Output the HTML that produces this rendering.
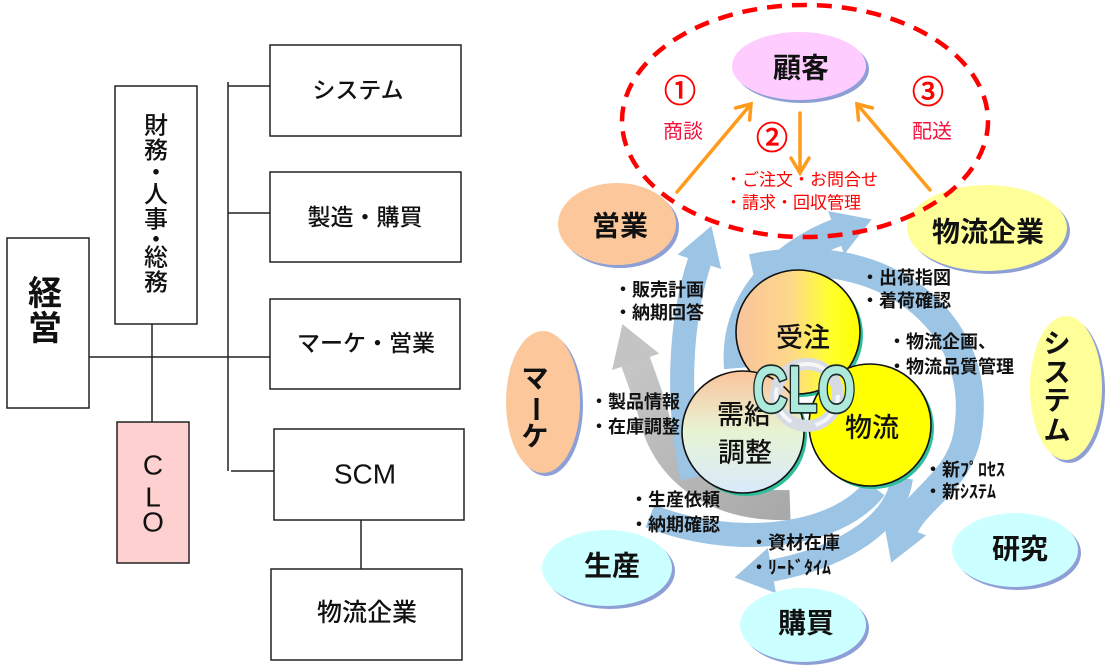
<!DOCTYPE html>
<html>
<head>
<meta charset="utf-8">
<style>
html,body{margin:0;padding:0;background:#fff;}
svg{display:block;}
text{font-family:"Liberation Sans","Noto Sans CJK JP",sans-serif;}
</style>
</head>
<body>
<svg width="1108" height="672" viewBox="0 0 1108 672" xmlns="http://www.w3.org/2000/svg">
<defs>
  <marker id="hb" markerUnits="userSpaceOnUse" markerWidth="38" markerHeight="46" refX="2" refY="23" orient="auto" viewBox="0 0 38 46">
    <path d="M0,0 L38,23 L0,46 z" fill="#9cc4e5"/>
  </marker>
  <marker id="hg" markerUnits="userSpaceOnUse" markerWidth="40" markerHeight="50" refX="2" refY="25" orient="auto" viewBox="0 0 40 50">
    <path d="M0,0 L40,25 L0,50 z" fill="#c4c4c4"/>
  </marker>
  <linearGradient id="gJ" x1="0" y1="0" x2="1" y2="0">
    <stop offset="0" stop-color="#f9c39c"/>
    <stop offset="0.45" stop-color="#fdd88a"/>
    <stop offset="0.75" stop-color="#ffff30"/>
    <stop offset="1" stop-color="#ffff00"/>
  </linearGradient>
  <linearGradient id="gD" x1="0" y1="0" x2="0" y2="1">
    <stop offset="0" stop-color="#fbc49b"/>
    <stop offset="0.5" stop-color="#e6f4d4"/>
    <stop offset="1" stop-color="#d9e9fb"/>
  </linearGradient>
  <linearGradient id="gG" gradientUnits="userSpaceOnUse" x1="790" y1="505" x2="635" y2="360">
    <stop offset="0" stop-color="#a9a9a9"/>
    <stop offset="1" stop-color="#c6c6c6"/>
  </linearGradient>
</defs>

<!-- ===== LEFT ORG CHART ===== -->
<g fill="none" stroke="#222" stroke-width="1.5">
  <line x1="89" y1="357" x2="270" y2="357"/>
  <line x1="152" y1="324" x2="152" y2="422"/>
  <line x1="228" y1="82" x2="228" y2="471"/>
  <line x1="228" y1="86" x2="270" y2="86"/>
  <line x1="228" y1="213" x2="270" y2="213"/>
  <line x1="231" y1="471" x2="274" y2="471"/>
  <line x1="361" y1="520" x2="361" y2="569"/>
  <rect x="7" y="238" width="82" height="170" fill="#fff"/>
  <rect x="115" y="86" width="82" height="238" fill="#fff"/>
  <rect x="117" y="422" width="72" height="141" fill="#ffd0d0"/>
  <rect x="270" y="45" width="191" height="91" fill="#fff"/>
  <rect x="270" y="172" width="191" height="90" fill="#fff"/>
  <rect x="270" y="299" width="190" height="90" fill="#fff"/>
  <rect x="274" y="429" width="190" height="91" fill="#fff"/>
  <rect x="271" y="569" width="191" height="91" fill="#fff"/>
</g>
<g fill="#111" text-anchor="middle" dominant-baseline="central">
  <text x="45" y="294" font-size="34" font-weight="bold">経</text>
  <text x="45" y="329" font-size="34" font-weight="bold">営</text>
  <g font-size="24" font-weight="500">
    <text x="156" y="126">財</text>
    <text x="156" y="151">務</text>
    <text x="156" y="173">・</text>
    <text x="156" y="195">人</text>
    <text x="156" y="220">事</text>
    <text x="156" y="240">・</text>
    <text x="156" y="258">総</text>
    <text x="156" y="283">務</text>
  </g>
  <g font-size="28">
    <text x="153" y="465">C</text>
    <text x="153" y="497">L</text>
    <text x="153" y="522">O</text>
  </g>
  <g font-size="23" font-weight="500">
    <text x="358" y="90">システム</text>
    <text x="365" y="217">製造・購買</text>
    <text x="366" y="343">マーケ・営業</text>
    <text x="367" y="613" font-size="25">物流企業</text>
  </g>
  <text x="365" y="474" font-size="28">SCM</text>
</g>

<!-- ===== RIGHT DIAGRAM ===== -->
<g fill="none" stroke-linecap="butt">
  <path d="M 790 505 C 705 508, 665 460, 655 420 C 650 400, 642 380, 635 360" stroke="url(#gG)" stroke-width="30" marker-end="url(#hg)"/>
  <g stroke="#9cc4e5">
    <path d="M 692 478 C 676 400, 680 320, 700 260" stroke-width="24" marker-end="url(#hb)"/>
    <path d="M 738 368 C 732 295, 790 250, 838 232" stroke-width="28" marker-end="url(#hb)"/>
    <path d="M 752 268 C 880 240, 985 320, 968 430 C 962 480, 915 500, 904 529" stroke-width="28" marker-end="url(#hb)"/>
    <path d="M 902 478 C 895 530, 830 560, 770 571" stroke-width="22" marker-end="url(#hb)"/>
    <path d="M 875 488 C 835 540, 730 548, 650 516" stroke-width="24"/>
  </g>
</g>

<g>
  <ellipse cx="620" cy="227" rx="59" ry="41" fill="#8e9fd6"/>
  <ellipse cx="617" cy="224" rx="59" ry="41" fill="#fcc89b"/>
  <ellipse cx="990" cy="231" rx="80" ry="43" fill="#8e9fd6"/>
  <ellipse cx="987" cy="228" rx="80" ry="43" fill="#ffff99"/>
  <ellipse cx="802" cy="69" rx="67" ry="34" fill="#8e9fd6"/>
  <ellipse cx="799" cy="66" rx="67" ry="34" fill="#ffccff"/>
  <ellipse cx="546" cy="405" rx="37" ry="71" fill="#8e9fd6"/>
  <ellipse cx="543" cy="402" rx="37" ry="71" fill="#fcc89b"/>
  <ellipse cx="1069" cy="391" rx="36" ry="72" fill="#8e9fd6"/>
  <ellipse cx="1066" cy="388" rx="36" ry="72" fill="#ffff99"/>
  <ellipse cx="610" cy="571" rx="65" ry="38" fill="#8e9fd6"/>
  <ellipse cx="607" cy="568" rx="65" ry="38" fill="#ccffff"/>
  <ellipse cx="806" cy="628" rx="63" ry="37" fill="#8e9fd6"/>
  <ellipse cx="803" cy="625" rx="63" ry="37" fill="#ccffff"/>
  <ellipse cx="1018" cy="553" rx="63" ry="37" fill="#8e9fd6"/>
  <ellipse cx="1015" cy="550" rx="63" ry="37" fill="#ccffff"/>
</g>

<g>
  <circle cx="801" cy="335" r="62" fill="#2dbf9b"/>
  <circle cx="798" cy="332" r="62" fill="url(#gJ)" stroke="#111" stroke-width="1.6"/>
  <circle cx="746" cy="435" r="61" fill="#2dbf9b"/>
  <circle cx="743" cy="432" r="61" fill="url(#gD)" stroke="#111" stroke-width="1.6"/>
  <circle cx="873" cy="428" r="61" fill="#2dbf9b"/>
  <circle cx="870" cy="425" r="61" fill="#ffff00" stroke="#111" stroke-width="1.6"/>
</g>

<circle cx="807" cy="395" r="31" fill="none" stroke="#d6dbe4" stroke-width="12"/>
<circle cx="807" cy="395" r="31" fill="none" stroke="#f4f6fa" stroke-width="4" stroke-dasharray="40 25"/>

<ellipse cx="805" cy="121" rx="183" ry="116" fill="none" stroke="#ff0000" stroke-width="4.5" stroke-dasharray="15 10"/>

<g fill="none" stroke="#ff9a1a" stroke-width="3.5" stroke-linecap="round" stroke-linejoin="miter">
  <line x1="677" y1="192" x2="751" y2="104"/>
  <polyline points="735.5,108 751,104 749.6,120"/>
  <line x1="800" y1="113" x2="800" y2="173"/>
  <polyline points="791,158 800,173 809,158"/>
  <line x1="930" y1="190" x2="857" y2="104"/>
  <polyline points="858.5,120 857,104 872.5,108"/>
</g>

<g fill="#111" text-anchor="middle" dominant-baseline="central" font-weight="bold" font-size="28">
  <text x="801" y="68">顧客</text>
  <text x="620" y="226">営業</text>
  <text x="988" y="232">物流企業</text>
  <text x="612" y="566">生産</text>
  <text x="806" y="623">購買</text>
  <text x="1020" y="549">研究</text>
  <text x="1057" y="344" font-size="27">シ</text>
  <text x="1057" y="373" font-size="27">ス</text>
  <text x="1057" y="401" font-size="27">テ</text>
  <text x="1057" y="431" font-size="27">ム</text>
  <text x="535" y="379" font-size="27">マ</text>
  <text x="535" y="409" font-size="27" transform="rotate(90 535 409)">ー</text>
  <text x="535" y="437" font-size="27">ケ</text>
  <text x="803" y="338" font-weight="500" font-size="27">受注</text>
  <text x="744" y="415" font-weight="500" font-size="27">需給</text>
  <text x="745" y="453" font-weight="500" font-size="27">調整</text>
  <text x="872" y="428" font-weight="500" font-size="27">物流</text>
</g>

<text transform="translate(804,412) scale(0.74,1)" text-anchor="middle" font-size="66" font-weight="bold" fill="#aeeadc" stroke="#1a2a2a" stroke-width="3.5" paint-order="stroke" stroke-linejoin="round">CLO</text>

<g fill="#ff0000" dominant-baseline="central">
  <g font-size="32" text-anchor="middle" stroke="#ff0000" stroke-width="0.8">
    <text x="680" y="91">①</text>
    <text x="772" y="138">②</text>
    <text x="928" y="92">③</text>
  </g>
  <text x="683" y="132" font-size="20" text-anchor="middle" fill="#f5103c">商談</text>
  <text x="932" y="132" font-size="20" text-anchor="middle" fill="#f5103c">配送</text>
  <text x="725" y="180" font-size="17">・ご注文・お問合せ</text>
  <text x="725" y="203" font-size="17">・請求・回収管理</text>
</g>

<g fill="#111" dominant-baseline="central" font-size="18" font-weight="bold">
  <text x="614" y="290">・販売計画</text>
  <text x="614" y="313">・納期回答</text>
  <text x="590" y="402">・製品情報</text>
  <text x="590" y="427">・在庫調整</text>
  <text x="861" y="278">・出荷指図</text>
  <text x="861" y="301">・着荷確認</text>
  <text x="888" y="342">・物流企画、</text>
  <text x="888" y="367">・物流品質管理</text>
  <text x="924" y="470">・新ﾌﾟﾛｾｽ</text>
  <text x="924" y="492">・新ｼｽﾃﾑ</text>
  <text x="630" y="500">・生産依頼</text>
  <text x="630" y="525">・納期確認</text>
  <text x="750" y="543">・資材在庫</text>
  <text x="750" y="568">・ﾘｰﾄﾞﾀｲﾑ</text>
</g>
</svg>
</body>
</html>
